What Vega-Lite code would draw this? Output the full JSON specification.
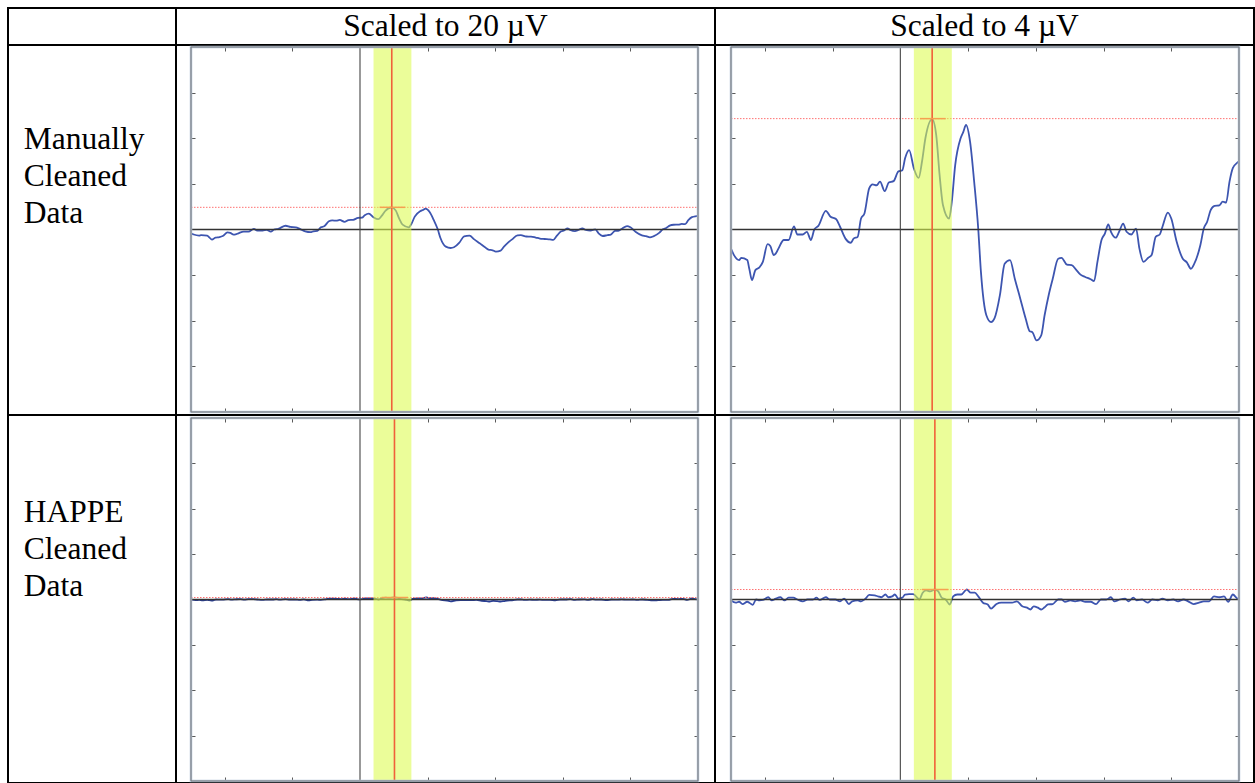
{
  "$schema": "https://vega.github.io/schema/vega-lite/v6.json",
  "background": "white",
  "padding": {"left": 6, "top": 6, "right": 0, "bottom": 0},
  "config": {"view": {"stroke": "#000000", "strokeWidth": 2}, "font": "Liberation Serif"},
  "datasets": {
    "manual": [
      {"t": -250, "v": -0.42}, {"t": -246, "v": -0.55}, {"t": -238, "v": -0.67}, {"t": -235, "v": -0.62},
      {"t": -226, "v": -0.67}, {"t": -223, "v": -0.86}, {"t": -219, "v": -1.11}, {"t": -214, "v": -0.89},
      {"t": -208, "v": -0.83}, {"t": -203, "v": -0.71}, {"t": -196, "v": -0.32}, {"t": -192, "v": -0.36},
      {"t": -187, "v": -0.56}, {"t": -184, "v": -0.53}, {"t": -180, "v": -0.42}, {"t": -172, "v": -0.23},
      {"t": -165, "v": -0.23}, {"t": -157, "v": 0.07}, {"t": -152, "v": -0.11}, {"t": -144, "v": -0.11},
      {"t": -138, "v": -0.05}, {"t": -132, "v": -0.23}, {"t": -127, "v": 0.0}, {"t": -121, "v": 0.08},
      {"t": -110, "v": 0.41}, {"t": -103, "v": 0.28}, {"t": -95, "v": 0.23}, {"t": -89, "v": 0.06},
      {"t": -81, "v": -0.2}, {"t": -73, "v": -0.29}, {"t": -69, "v": -0.2}, {"t": -63, "v": -0.16},
      {"t": -58, "v": 0.24}, {"t": -53, "v": 0.35}, {"t": -46, "v": 0.9}, {"t": -41, "v": 0.99},
      {"t": -35, "v": 0.97}, {"t": -30, "v": 1.05}, {"t": -23, "v": 0.84}, {"t": -17, "v": 1.03},
      {"t": -10, "v": 1.06}, {"t": -3, "v": 1.27}, {"t": 3, "v": 1.3}, {"t": 7, "v": 1.56},
      {"t": 13, "v": 1.74}, {"t": 20, "v": 1.34}, {"t": 27, "v": 1.13}, {"t": 32, "v": 1.49},
      {"t": 37, "v": 2.0}, {"t": 47, "v": 2.42}, {"t": 53, "v": 2.07}, {"t": 58, "v": 1.19},
      {"t": 63, "v": 0.53}, {"t": 72, "v": 0.24}, {"t": 76, "v": 0.61}, {"t": 81, "v": 1.41},
      {"t": 89, "v": 2.0}, {"t": 93, "v": 2.14}, {"t": 97, "v": 2.29}, {"t": 103, "v": 1.92},
      {"t": 109, "v": 1.05}, {"t": 115, "v": 0.02}, {"t": 119, "v": -0.93}, {"t": 127, "v": -1.88},
      {"t": 134, "v": -2.03}, {"t": 139, "v": -1.95}, {"t": 147, "v": -1.44}, {"t": 154, "v": -0.75},
      {"t": 162, "v": -0.67}, {"t": 169, "v": -1.08}, {"t": 177, "v": -1.51}, {"t": 185, "v": -1.95},
      {"t": 191, "v": -2.23}, {"t": 195, "v": -2.25}, {"t": 201, "v": -2.43}, {"t": 208, "v": -2.32},
      {"t": 213, "v": -1.88}, {"t": 219, "v": -1.44}, {"t": 225, "v": -1.08}, {"t": 233, "v": -0.64},
      {"t": 238, "v": -0.62}, {"t": 246, "v": -0.77}, {"t": 253, "v": -0.78}, {"t": 260, "v": -0.89},
      {"t": 266, "v": -0.99}, {"t": 273, "v": -1.04}, {"t": 281, "v": -1.09}, {"t": 286, "v": -1.13},
      {"t": 291, "v": -0.71}, {"t": 297, "v": -0.23}, {"t": 302, "v": -0.09}, {"t": 307, "v": 0.11},
      {"t": 311, "v": -0.05}, {"t": 318, "v": -0.18}, {"t": 323, "v": -0.05}, {"t": 329, "v": 0.13},
      {"t": 334, "v": -0.05}, {"t": 341, "v": -0.11}, {"t": 348, "v": 0.02}, {"t": 353, "v": -0.42},
      {"t": 359, "v": -0.71}, {"t": 366, "v": -0.62}, {"t": 371, "v": -0.56}, {"t": 377, "v": -0.16},
      {"t": 383, "v": -0.11}, {"t": 387, "v": 0.06}, {"t": 395, "v": 0.37}, {"t": 400, "v": 0.24},
      {"t": 408, "v": -0.27}, {"t": 417, "v": -0.64}, {"t": 423, "v": -0.72}, {"t": 429, "v": -0.86},
      {"t": 434, "v": -0.75}, {"t": 443, "v": -0.34}, {"t": 448, "v": 0.02}, {"t": 453, "v": 0.17},
      {"t": 458, "v": 0.42}, {"t": 464, "v": 0.52}, {"t": 471, "v": 0.53}, {"t": 476, "v": 0.61},
      {"t": 481, "v": 0.59}, {"t": 486, "v": 1.05}, {"t": 491, "v": 1.35}, {"t": 498, "v": 1.47},
      {"t": 500, "v": 1.5}
    ],
    "happe": [
      {"t": -250, "v": -0.02}, {"t": -243, "v": -0.07}, {"t": -238, "v": -0.05}, {"t": -233, "v": -0.1},
      {"t": -226, "v": -0.05}, {"t": -223, "v": -0.07}, {"t": -218, "v": -0.12}, {"t": -213, "v": 0.0},
      {"t": -208, "v": -0.02}, {"t": -203, "v": -0.01}, {"t": -195, "v": 0.05}, {"t": -190, "v": -0.02},
      {"t": -184, "v": 0.02}, {"t": -177, "v": 0.05}, {"t": -171, "v": -0.02}, {"t": -165, "v": 0.04},
      {"t": -158, "v": 0.04}, {"t": -152, "v": 0.0}, {"t": -144, "v": -0.04}, {"t": -137, "v": 0.0},
      {"t": -129, "v": 0.0}, {"t": -124, "v": 0.04}, {"t": -119, "v": -0.01}, {"t": -110, "v": 0.05},
      {"t": -104, "v": 0.0}, {"t": -96, "v": 0.0}, {"t": -89, "v": -0.04}, {"t": -83, "v": 0.02},
      {"t": -76, "v": -0.1}, {"t": -71, "v": -0.04}, {"t": -63, "v": -0.02}, {"t": -58, "v": -0.04},
      {"t": -52, "v": 0.01}, {"t": -46, "v": 0.1}, {"t": -38, "v": 0.09}, {"t": -33, "v": 0.07},
      {"t": -28, "v": 0.05}, {"t": -22, "v": 0.11}, {"t": -18, "v": 0.05}, {"t": -12, "v": 0.07},
      {"t": -8, "v": 0.11}, {"t": -3, "v": 0.02}, {"t": 3, "v": 0.04}, {"t": 7, "v": 0.11},
      {"t": 13, "v": 0.12}, {"t": 19, "v": 0.12}, {"t": 23, "v": 0.07}, {"t": 28, "v": 0.0},
      {"t": 33, "v": 0.15}, {"t": 38, "v": 0.2}, {"t": 44, "v": 0.18}, {"t": 51, "v": 0.22},
      {"t": 56, "v": 0.18}, {"t": 61, "v": 0.04}, {"t": 67, "v": 0.0}, {"t": 73, "v": -0.11},
      {"t": 78, "v": 0.07}, {"t": 84, "v": 0.11}, {"t": 90, "v": 0.11}, {"t": 98, "v": 0.22},
      {"t": 104, "v": 0.15}, {"t": 110, "v": 0.15}, {"t": 115, "v": 0.07}, {"t": 122, "v": -0.07},
      {"t": 129, "v": -0.11}, {"t": 134, "v": -0.2}, {"t": 142, "v": -0.1}, {"t": 149, "v": -0.07},
      {"t": 157, "v": -0.07}, {"t": 165, "v": -0.07}, {"t": 172, "v": -0.04}, {"t": 180, "v": -0.15},
      {"t": 187, "v": -0.18}, {"t": 192, "v": -0.22}, {"t": 197, "v": -0.15}, {"t": 203, "v": -0.18},
      {"t": 208, "v": -0.22}, {"t": 213, "v": -0.17}, {"t": 218, "v": -0.11}, {"t": 225, "v": -0.1},
      {"t": 233, "v": 0.0}, {"t": 238, "v": 0.0}, {"t": 243, "v": -0.05}, {"t": 251, "v": -0.02},
      {"t": 258, "v": -0.04}, {"t": 266, "v": -0.02}, {"t": 273, "v": -0.05}, {"t": 281, "v": -0.05},
      {"t": 289, "v": -0.1}, {"t": 296, "v": 0.0}, {"t": 304, "v": 0.0}, {"t": 311, "v": 0.05},
      {"t": 316, "v": -0.04}, {"t": 324, "v": 0.0}, {"t": 332, "v": 0.02}, {"t": 337, "v": -0.04},
      {"t": 344, "v": 0.04}, {"t": 349, "v": -0.02}, {"t": 357, "v": 0.0}, {"t": 365, "v": -0.07},
      {"t": 372, "v": 0.0}, {"t": 380, "v": -0.02}, {"t": 387, "v": 0.02}, {"t": 395, "v": -0.02},
      {"t": 403, "v": 0.0}, {"t": 410, "v": -0.04}, {"t": 418, "v": 0.0}, {"t": 425, "v": -0.04},
      {"t": 433, "v": -0.1}, {"t": 441, "v": -0.07}, {"t": 448, "v": -0.04}, {"t": 456, "v": -0.04},
      {"t": 463, "v": 0.07}, {"t": 471, "v": 0.05}, {"t": 478, "v": 0.07}, {"t": 484, "v": -0.05},
      {"t": 491, "v": 0.11}, {"t": 496, "v": 0.04}, {"t": 499, "v": 0.0}
    ],
    "manual_peak": [{"peak_ms": 47, "peak_uv": 2.43, "win_start": 20, "win_end": 76, "seg_start": 29, "seg_end": 67}],
    "happe_peak": [{"peak_ms": 51, "peak_uv": 0.22, "win_start": 20, "win_end": 76, "seg_start": 32, "seg_end": 71}]
  },
  "columns": 3,
  "spacing": 0,
  "bounds": "flush",
  "concat": [
    {"width": 168, "height": 37, "data": {"values": [{"cell": "corner"}]},
     "mark": {"type": "rect", "fillOpacity": 0, "stroke": "#000000", "strokeWidth": 2},
     "encoding": {"x": {"datum": 0, "type": "quantitative", "scale": {"domain": [0, 1], "nice": false}, "axis": null}, "x2": {"datum": 1},
                  "y": {"datum": 0, "type": "quantitative", "scale": {"domain": [0, 1], "nice": false}, "axis": null}, "y2": {"datum": 1}}},
    {"width": 539, "height": 37, "data": {"values": [{"h": "Scaled to 20 µV"}]},
     "mark": {"type": "text", "font": "Liberation Serif", "fontSize": 31.5, "baseline": "middle", "align": "center", "color": "#000000"},
     "encoding": {"text": {"field": "h"}, "x": {"datum": 0.5, "type": "quantitative", "scale": {"domain": [0, 1]}, "axis": null}, "y": {"datum": 0.5, "type": "quantitative", "scale": {"domain": [0, 1]}, "axis": null}}},
    {"width": 539, "height": 37, "data": {"values": [{"h": "Scaled to 4 µV"}]},
     "mark": {"type": "text", "font": "Liberation Serif", "fontSize": 31.5, "baseline": "middle", "align": "center", "color": "#000000"},
     "encoding": {"text": {"field": "h"}, "x": {"datum": 0.5, "type": "quantitative", "scale": {"domain": [0, 1]}, "axis": null}, "y": {"datum": 0.5, "type": "quantitative", "scale": {"domain": [0, 1]}, "axis": null}}},
    {"width": 168, "height": 370, "data": {"values": [{"label": "Manually\nCleaned\nData"}]},
     "mark": {"type": "text", "font": "Liberation Serif", "fontSize": 31.5, "align": "left", "baseline": "alphabetic", "lineBreak": "\n", "lineHeight": 37, "color": "#000000"},
     "encoding": {"text": {"field": "label"}, "x": {"datum": 0.0935, "type": "quantitative", "scale": {"domain": [0, 1]}, "axis": null}, "y": {"datum": 0.281, "type": "quantitative", "scale": {"domain": [0, 1], "reverse": true}, "axis": null}}},
    {
      "width": 539, "height": 370,
      "resolve": {"axis": {"x": "independent", "y": "independent"}},
      "layer": [
        {"data": {"name": "manual"}, "mark": {"type": "line", "color": "#3d55b0", "strokeWidth": 1.8, "interpolate": "monotone"},
         "encoding": {
           "x": {"field": "t", "type": "quantitative", "scale": {"domain": [-272.19, 525.15], "nice": false, "zero": false},
                 "axis": {"orient": "bottom", "values": [-200, -100, 100, 200, 300, 400], "labels": false, "domain": false, "grid": false, "tickSize": -4, "tickColor": "#5a5a5a", "tickWidth": 1, "offset": -3, "title": null}},
           "y": {"field": "v", "type": "quantitative", "scale": {"domain": [-20.33, 20.22], "nice": false, "zero": false},
                 "axis": {"orient": "left", "values": [-15, -10, -5, 5, 10, 15], "labels": false, "domain": false, "grid": false, "tickSize": -4, "tickColor": "#5a5a5a", "tickWidth": 1, "offset": -15, "title": null}}}},
        {"data": {"name": "manual_peak"}, "mark": {"type": "rule", "color": "#ff7070", "strokeWidth": 1, "strokeDash": [1.5, 1.5]},
         "encoding": {"x": {"datum": -250, "type": "quantitative", "scale": {"domain": [-272.19, 525.15], "nice": false, "zero": false}, "axis": null}, "x2": {"datum": 500},
                      "y": {"field": "peak_uv", "type": "quantitative", "scale": {"domain": [-20.33, 20.22], "nice": false, "zero": false}, "axis": null}}},
        {"data": {"name": "manual_peak"}, "mark": {"type": "rule", "color": "#333333", "strokeWidth": 1.4},
         "encoding": {"x": {"datum": -250, "type": "quantitative", "scale": {"domain": [-272.19, 525.15], "nice": false, "zero": false}, "axis": null}, "x2": {"datum": 500},
                      "y": {"datum": 0, "type": "quantitative", "scale": {"domain": [-20.33, 20.22], "nice": false, "zero": false}, "axis": null}}},
        {"data": {"name": "manual_peak"}, "mark": {"type": "rule", "color": "#444444", "strokeWidth": 1.1},
         "encoding": {"x": {"datum": 0, "type": "quantitative", "scale": {"domain": [-272.19, 525.15], "nice": false, "zero": false}, "axis": null},
                      "y": {"datum": -20, "type": "quantitative", "scale": {"domain": [-20.33, 20.22], "nice": false, "zero": false}, "axis": null}, "y2": {"datum": 20}}},
        {"data": {"name": "manual_peak"}, "mark": {"type": "rect", "color": "#dcfc50", "opacity": 0.58},
         "encoding": {"x": {"field": "win_start", "type": "quantitative", "scale": {"domain": [-272.19, 525.15], "nice": false, "zero": false}, "axis": null}, "x2": {"field": "win_end"},
                      "y": {"datum": -20, "type": "quantitative", "scale": {"domain": [-20.33, 20.22], "nice": false, "zero": false}, "axis": null}, "y2": {"datum": 20}}},
        {"data": {"name": "manual_peak"}, "mark": {"type": "rule", "color": "#f0603a", "strokeWidth": 1.6},
         "encoding": {"x": {"field": "peak_ms", "type": "quantitative", "scale": {"domain": [-272.19, 525.15], "nice": false, "zero": false}, "axis": null},
                      "y": {"datum": -20, "type": "quantitative", "scale": {"domain": [-20.33, 20.22], "nice": false, "zero": false}, "axis": null}, "y2": {"datum": 20}}},
        {"data": {"name": "manual_peak"}, "mark": {"type": "rule", "color": "#f5a050", "strokeWidth": 1.5},
         "encoding": {"x": {"field": "seg_start", "type": "quantitative", "scale": {"domain": [-272.19, 525.15], "nice": false, "zero": false}, "axis": null}, "x2": {"field": "seg_end"},
                      "y": {"field": "peak_uv", "type": "quantitative", "scale": {"domain": [-20.33, 20.22], "nice": false, "zero": false}, "axis": null}}},
        {"data": {"name": "manual_peak"}, "mark": {"type": "rect", "fillOpacity": 0, "stroke": "#b9c8dc", "strokeWidth": 2.5},
         "encoding": {"x": {"datum": -250, "type": "quantitative", "scale": {"domain": [-272.19, 525.15], "nice": false, "zero": false}, "axis": null}, "x2": {"datum": 500},
                      "y": {"datum": -20, "type": "quantitative", "scale": {"domain": [-20.33, 20.22], "nice": false, "zero": false}, "axis": null}, "y2": {"datum": 20}}},
        {"data": {"name": "manual_peak"}, "mark": {"type": "rect", "fillOpacity": 0, "stroke": "#777777", "strokeWidth": 1},
         "encoding": {"x": {"datum": -250, "type": "quantitative", "scale": {"domain": [-272.19, 525.15], "nice": false, "zero": false},
                            "axis": {"orient": "top", "values": [-200, -100, 100, 200, 300, 400], "labels": false, "domain": false, "grid": false, "tickSize": -4, "tickColor": "#5a5a5a", "tickWidth": 1, "offset": -2, "title": null}}, "x2": {"datum": 500},
                      "y": {"datum": -20, "type": "quantitative", "scale": {"domain": [-20.33, 20.22], "nice": false, "zero": false},
                            "axis": {"orient": "right", "values": [-15, -10, -5, 5, 10, 15], "labels": false, "domain": false, "grid": false, "tickSize": -4, "tickColor": "#5a5a5a", "tickWidth": 1, "offset": -17, "title": null}}, "y2": {"datum": 20}}}
      ]
    },
    {
      "width": 539, "height": 370,
      "resolve": {"axis": {"x": "independent", "y": "independent"}},
      "layer": [
        {"data": {"name": "manual"}, "mark": {"type": "line", "color": "#3d55b0", "strokeWidth": 1.8, "interpolate": "monotone"},
         "encoding": {
           "x": {"field": "t", "type": "quantitative", "scale": {"domain": [-273.62, 522.15], "nice": false, "zero": false},
                 "axis": {"orient": "bottom", "values": [-200, -100, 100, 200, 300, 400], "labels": false, "domain": false, "grid": false, "tickSize": -4, "tickColor": "#5a5a5a", "tickWidth": 1, "offset": -3, "title": null}},
           "y": {"field": "v", "type": "quantitative", "scale": {"domain": [-4.066, 4.044], "nice": false, "zero": false},
                 "axis": {"orient": "left", "values": [-3, -2, -1, 1, 2, 3], "labels": false, "domain": false, "grid": false, "tickSize": -4, "tickColor": "#5a5a5a", "tickWidth": 1, "offset": -16, "title": null}}}},
        {"data": {"name": "manual_peak"}, "mark": {"type": "rule", "color": "#ff7070", "strokeWidth": 1, "strokeDash": [1.5, 1.5]},
         "encoding": {"x": {"datum": -250, "type": "quantitative", "scale": {"domain": [-273.62, 522.15], "nice": false, "zero": false}, "axis": null}, "x2": {"datum": 500},
                      "y": {"field": "peak_uv", "type": "quantitative", "scale": {"domain": [-4.066, 4.044], "nice": false, "zero": false}, "axis": null}}},
        {"data": {"name": "manual_peak"}, "mark": {"type": "rule", "color": "#333333", "strokeWidth": 1.4},
         "encoding": {"x": {"datum": -250, "type": "quantitative", "scale": {"domain": [-273.62, 522.15], "nice": false, "zero": false}, "axis": null}, "x2": {"datum": 500},
                      "y": {"datum": 0, "type": "quantitative", "scale": {"domain": [-4.066, 4.044], "nice": false, "zero": false}, "axis": null}}},
        {"data": {"name": "manual_peak"}, "mark": {"type": "rule", "color": "#444444", "strokeWidth": 1.1},
         "encoding": {"x": {"datum": 0, "type": "quantitative", "scale": {"domain": [-273.62, 522.15], "nice": false, "zero": false}, "axis": null},
                      "y": {"datum": -4, "type": "quantitative", "scale": {"domain": [-4.066, 4.044], "nice": false, "zero": false}, "axis": null}, "y2": {"datum": 4}}},
        {"data": {"name": "manual_peak"}, "mark": {"type": "rect", "color": "#dcfc50", "opacity": 0.58},
         "encoding": {"x": {"field": "win_start", "type": "quantitative", "scale": {"domain": [-273.62, 522.15], "nice": false, "zero": false}, "axis": null}, "x2": {"field": "win_end"},
                      "y": {"datum": -4, "type": "quantitative", "scale": {"domain": [-4.066, 4.044], "nice": false, "zero": false}, "axis": null}, "y2": {"datum": 4}}},
        {"data": {"name": "manual_peak"}, "mark": {"type": "rule", "color": "#f0603a", "strokeWidth": 1.6},
         "encoding": {"x": {"field": "peak_ms", "type": "quantitative", "scale": {"domain": [-273.62, 522.15], "nice": false, "zero": false}, "axis": null},
                      "y": {"datum": -4, "type": "quantitative", "scale": {"domain": [-4.066, 4.044], "nice": false, "zero": false}, "axis": null}, "y2": {"datum": 4}}},
        {"data": {"name": "manual_peak"}, "mark": {"type": "rule", "color": "#f5a050", "strokeWidth": 1.5},
         "encoding": {"x": {"field": "seg_start", "type": "quantitative", "scale": {"domain": [-273.62, 522.15], "nice": false, "zero": false}, "axis": null}, "x2": {"field": "seg_end"},
                      "y": {"field": "peak_uv", "type": "quantitative", "scale": {"domain": [-4.066, 4.044], "nice": false, "zero": false}, "axis": null}}},
        {"data": {"name": "manual_peak"}, "mark": {"type": "rect", "fillOpacity": 0, "stroke": "#b9c8dc", "strokeWidth": 2.5},
         "encoding": {"x": {"datum": -250, "type": "quantitative", "scale": {"domain": [-273.62, 522.15], "nice": false, "zero": false}, "axis": null}, "x2": {"datum": 500},
                      "y": {"datum": -4, "type": "quantitative", "scale": {"domain": [-4.066, 4.044], "nice": false, "zero": false}, "axis": null}, "y2": {"datum": 4}}},
        {"data": {"name": "manual_peak"}, "mark": {"type": "rect", "fillOpacity": 0, "stroke": "#777777", "strokeWidth": 1},
         "encoding": {"x": {"datum": -250, "type": "quantitative", "scale": {"domain": [-273.62, 522.15], "nice": false, "zero": false},
                            "axis": {"orient": "top", "values": [-200, -100, 100, 200, 300, 400], "labels": false, "domain": false, "grid": false, "tickSize": -4, "tickColor": "#5a5a5a", "tickWidth": 1, "offset": -2, "title": null}}, "x2": {"datum": 500},
                      "y": {"datum": -4, "type": "quantitative", "scale": {"domain": [-4.066, 4.044], "nice": false, "zero": false},
                            "axis": {"orient": "right", "values": [-3, -2, -1, 1, 2, 3], "labels": false, "domain": false, "grid": false, "tickSize": -4, "tickColor": "#5a5a5a", "tickWidth": 1, "offset": -15, "title": null}}, "y2": {"datum": 4}}}
      ]
    },
    {"width": 168, "height": 368, "data": {"values": [{"label": "HAPPE\nCleaned\nData"}]},
     "mark": {"type": "text", "font": "Liberation Serif", "fontSize": 31.5, "align": "left", "baseline": "alphabetic", "lineBreak": "\n", "lineHeight": 37, "color": "#000000"},
     "encoding": {"text": {"field": "label"}, "x": {"datum": 0.0935, "type": "quantitative", "scale": {"domain": [0, 1]}, "axis": null}, "y": {"datum": 0.29, "type": "quantitative", "scale": {"domain": [0, 1], "reverse": true}, "axis": null}}},
    {
      "width": 539, "height": 368,
      "resolve": {"axis": {"x": "independent", "y": "independent"}},
      "layer": [
        {"data": {"name": "happe"}, "mark": {"type": "line", "color": "#2a3f96", "strokeWidth": 1.8, "interpolate": "monotone"},
         "encoding": {
           "x": {"field": "t", "type": "quantitative", "scale": {"domain": [-272.19, 525.15], "nice": false, "zero": false},
                 "axis": {"orient": "bottom", "values": [-200, -100, 100, 200, 300, 400], "labels": false, "domain": false, "grid": false, "tickSize": -4, "tickColor": "#5a5a5a", "tickWidth": 1, "offset": -2, "title": null}},
           "y": {"field": "v", "type": "quantitative", "scale": {"domain": [-20.22, 20.33], "nice": false, "zero": false},
                 "axis": {"orient": "left", "values": [-15, -10, -5, 5, 10, 15], "labels": false, "domain": false, "grid": false, "tickSize": -4, "tickColor": "#5a5a5a", "tickWidth": 1, "offset": -15, "title": null}}}},
        {"data": {"name": "happe_peak"}, "mark": {"type": "rule", "color": "#ff7070", "strokeWidth": 1, "strokeDash": [1.5, 1.5]},
         "encoding": {"x": {"datum": -250, "type": "quantitative", "scale": {"domain": [-272.19, 525.15], "nice": false, "zero": false}, "axis": null}, "x2": {"datum": 500},
                      "y": {"field": "peak_uv", "type": "quantitative", "scale": {"domain": [-20.22, 20.33], "nice": false, "zero": false}, "axis": null}}},
        {"data": {"name": "happe_peak"}, "mark": {"type": "rule", "color": "#333333", "strokeWidth": 1.4},
         "encoding": {"x": {"datum": -250, "type": "quantitative", "scale": {"domain": [-272.19, 525.15], "nice": false, "zero": false}, "axis": null}, "x2": {"datum": 500},
                      "y": {"datum": 0, "type": "quantitative", "scale": {"domain": [-20.22, 20.33], "nice": false, "zero": false}, "axis": null}}},
        {"data": {"name": "happe_peak"}, "mark": {"type": "rule", "color": "#444444", "strokeWidth": 1.1},
         "encoding": {"x": {"datum": 0, "type": "quantitative", "scale": {"domain": [-272.19, 525.15], "nice": false, "zero": false}, "axis": null},
                      "y": {"datum": -20, "type": "quantitative", "scale": {"domain": [-20.22, 20.33], "nice": false, "zero": false}, "axis": null}, "y2": {"datum": 20}}},
        {"data": {"name": "happe_peak"}, "mark": {"type": "rect", "color": "#dcfc50", "opacity": 0.58},
         "encoding": {"x": {"field": "win_start", "type": "quantitative", "scale": {"domain": [-272.19, 525.15], "nice": false, "zero": false}, "axis": null}, "x2": {"field": "win_end"},
                      "y": {"datum": -20, "type": "quantitative", "scale": {"domain": [-20.22, 20.33], "nice": false, "zero": false}, "axis": null}, "y2": {"datum": 20}}},
        {"data": {"name": "happe_peak"}, "mark": {"type": "rule", "color": "#f0603a", "strokeWidth": 1.6},
         "encoding": {"x": {"field": "peak_ms", "type": "quantitative", "scale": {"domain": [-272.19, 525.15], "nice": false, "zero": false}, "axis": null},
                      "y": {"datum": -20, "type": "quantitative", "scale": {"domain": [-20.22, 20.33], "nice": false, "zero": false}, "axis": null}, "y2": {"datum": 20}}},
        {"data": {"name": "happe_peak"}, "mark": {"type": "rule", "color": "#f5a050", "strokeWidth": 1.5},
         "encoding": {"x": {"field": "seg_start", "type": "quantitative", "scale": {"domain": [-272.19, 525.15], "nice": false, "zero": false}, "axis": null}, "x2": {"field": "seg_end"},
                      "y": {"field": "peak_uv", "type": "quantitative", "scale": {"domain": [-20.22, 20.33], "nice": false, "zero": false}, "axis": null}}},
        {"data": {"name": "happe_peak"}, "mark": {"type": "rect", "fillOpacity": 0, "stroke": "#b9c8dc", "strokeWidth": 2.5},
         "encoding": {"x": {"datum": -250, "type": "quantitative", "scale": {"domain": [-272.19, 525.15], "nice": false, "zero": false}, "axis": null}, "x2": {"datum": 500},
                      "y": {"datum": -20, "type": "quantitative", "scale": {"domain": [-20.22, 20.33], "nice": false, "zero": false}, "axis": null}, "y2": {"datum": 20}}},
        {"data": {"name": "happe_peak"}, "mark": {"type": "rect", "fillOpacity": 0, "stroke": "#777777", "strokeWidth": 1},
         "encoding": {"x": {"datum": -250, "type": "quantitative", "scale": {"domain": [-272.19, 525.15], "nice": false, "zero": false},
                            "axis": {"orient": "top", "values": [-200, -100, 100, 200, 300, 400], "labels": false, "domain": false, "grid": false, "tickSize": -4, "tickColor": "#5a5a5a", "tickWidth": 1, "offset": -3, "title": null}}, "x2": {"datum": 500},
                      "y": {"datum": -20, "type": "quantitative", "scale": {"domain": [-20.22, 20.33], "nice": false, "zero": false},
                            "axis": {"orient": "right", "values": [-15, -10, -5, 5, 10, 15], "labels": false, "domain": false, "grid": false, "tickSize": -4, "tickColor": "#5a5a5a", "tickWidth": 1, "offset": -17, "title": null}}, "y2": {"datum": 20}}}
      ]
    },
    {
      "width": 539, "height": 368,
      "resolve": {"axis": {"x": "independent", "y": "independent"}},
      "layer": [
        {"data": {"name": "happe"}, "mark": {"type": "line", "color": "#3d55b0", "strokeWidth": 1.8, "interpolate": "monotone"},
         "encoding": {
           "x": {"field": "t", "type": "quantitative", "scale": {"domain": [-273.62, 522.15], "nice": false, "zero": false},
                 "axis": {"orient": "bottom", "values": [-200, -100, 100, 200, 300, 400], "labels": false, "domain": false, "grid": false, "tickSize": -4, "tickColor": "#5a5a5a", "tickWidth": 1, "offset": -2, "title": null}},
           "y": {"field": "v", "type": "quantitative", "scale": {"domain": [-4.044, 4.066], "nice": false, "zero": false},
                 "axis": {"orient": "left", "values": [-3, -2, -1, 1, 2, 3], "labels": false, "domain": false, "grid": false, "tickSize": -4, "tickColor": "#5a5a5a", "tickWidth": 1, "offset": -16, "title": null}}}},
        {"data": {"name": "happe_peak"}, "mark": {"type": "rule", "color": "#ff7070", "strokeWidth": 1, "strokeDash": [1.5, 1.5]},
         "encoding": {"x": {"datum": -250, "type": "quantitative", "scale": {"domain": [-273.62, 522.15], "nice": false, "zero": false}, "axis": null}, "x2": {"datum": 500},
                      "y": {"field": "peak_uv", "type": "quantitative", "scale": {"domain": [-4.044, 4.066], "nice": false, "zero": false}, "axis": null}}},
        {"data": {"name": "happe_peak"}, "mark": {"type": "rule", "color": "#333333", "strokeWidth": 1.4},
         "encoding": {"x": {"datum": -250, "type": "quantitative", "scale": {"domain": [-273.62, 522.15], "nice": false, "zero": false}, "axis": null}, "x2": {"datum": 500},
                      "y": {"datum": 0, "type": "quantitative", "scale": {"domain": [-4.044, 4.066], "nice": false, "zero": false}, "axis": null}}},
        {"data": {"name": "happe_peak"}, "mark": {"type": "rule", "color": "#444444", "strokeWidth": 1.1},
         "encoding": {"x": {"datum": 0, "type": "quantitative", "scale": {"domain": [-273.62, 522.15], "nice": false, "zero": false}, "axis": null},
                      "y": {"datum": -4, "type": "quantitative", "scale": {"domain": [-4.044, 4.066], "nice": false, "zero": false}, "axis": null}, "y2": {"datum": 4}}},
        {"data": {"name": "happe_peak"}, "mark": {"type": "rect", "color": "#dcfc50", "opacity": 0.58},
         "encoding": {"x": {"field": "win_start", "type": "quantitative", "scale": {"domain": [-273.62, 522.15], "nice": false, "zero": false}, "axis": null}, "x2": {"field": "win_end"},
                      "y": {"datum": -4, "type": "quantitative", "scale": {"domain": [-4.044, 4.066], "nice": false, "zero": false}, "axis": null}, "y2": {"datum": 4}}},
        {"data": {"name": "happe_peak"}, "mark": {"type": "rule", "color": "#f0603a", "strokeWidth": 1.6},
         "encoding": {"x": {"field": "peak_ms", "type": "quantitative", "scale": {"domain": [-273.62, 522.15], "nice": false, "zero": false}, "axis": null},
                      "y": {"datum": -4, "type": "quantitative", "scale": {"domain": [-4.044, 4.066], "nice": false, "zero": false}, "axis": null}, "y2": {"datum": 4}}},
        {"data": {"name": "happe_peak"}, "mark": {"type": "rule", "color": "#f5a050", "strokeWidth": 1.5},
         "encoding": {"x": {"field": "seg_start", "type": "quantitative", "scale": {"domain": [-273.62, 522.15], "nice": false, "zero": false}, "axis": null}, "x2": {"field": "seg_end"},
                      "y": {"field": "peak_uv", "type": "quantitative", "scale": {"domain": [-4.044, 4.066], "nice": false, "zero": false}, "axis": null}}},
        {"data": {"name": "happe_peak"}, "mark": {"type": "rect", "fillOpacity": 0, "stroke": "#b9c8dc", "strokeWidth": 2.5},
         "encoding": {"x": {"datum": -250, "type": "quantitative", "scale": {"domain": [-273.62, 522.15], "nice": false, "zero": false}, "axis": null}, "x2": {"datum": 500},
                      "y": {"datum": -4, "type": "quantitative", "scale": {"domain": [-4.044, 4.066], "nice": false, "zero": false}, "axis": null}, "y2": {"datum": 4}}},
        {"data": {"name": "happe_peak"}, "mark": {"type": "rect", "fillOpacity": 0, "stroke": "#777777", "strokeWidth": 1},
         "encoding": {"x": {"datum": -250, "type": "quantitative", "scale": {"domain": [-273.62, 522.15], "nice": false, "zero": false},
                            "axis": {"orient": "top", "values": [-200, -100, 100, 200, 300, 400], "labels": false, "domain": false, "grid": false, "tickSize": -4, "tickColor": "#5a5a5a", "tickWidth": 1, "offset": -3, "title": null}}, "x2": {"datum": 500},
                      "y": {"datum": -4, "type": "quantitative", "scale": {"domain": [-4.044, 4.066], "nice": false, "zero": false},
                            "axis": {"orient": "right", "values": [-3, -2, -1, 1, 2, 3], "labels": false, "domain": false, "grid": false, "tickSize": -4, "tickColor": "#5a5a5a", "tickWidth": 1, "offset": -15, "title": null}}, "y2": {"datum": 4}}}
      ]
    }
  ]
}
